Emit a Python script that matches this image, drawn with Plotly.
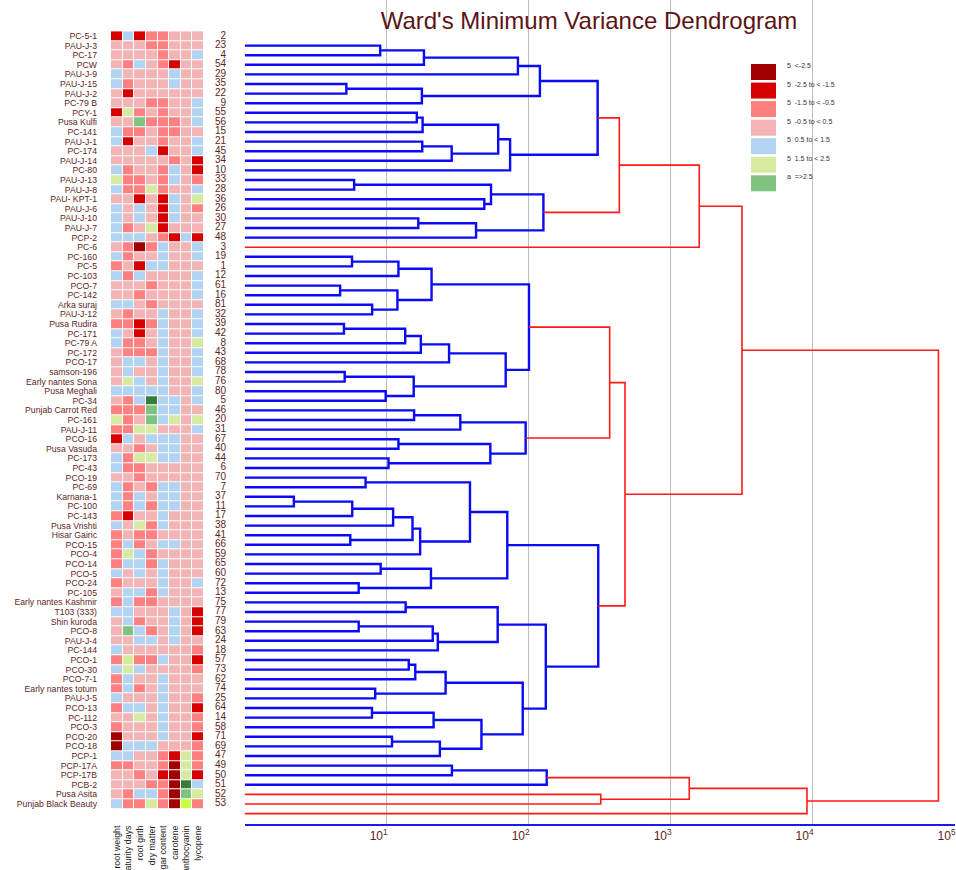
import plotly.graph_objects as go

# ---------------- data ----------------
genotypes = ["PC-5-1", "PAU-J-3", "PC-17", "PCW", "PAU-J-9", "PAU-J-15", "PAU-J-2", "PC-79 B", "PCY-1",
             "Pusa Kulfi", "PC-141", "PAU-J-1", "PC-174", "PAU-J-14", "PC-80", "PAU-J-13", "PAU-J-8",
             "PAU- KPT-1", "PAU-J-6", "PAU-J-10", "PAU-J-7", "PCP-2", "PC-6", "PC-160", "PC-5", "PC-103",
             "PCO-7", "PC-142", "Arka suraj", "PAU-J-12", "Pusa Rudira", "PC-171", "PC-79 A", "PC-172",
             "PCO-17", "samson-196", "Early nantes Sona", "Pusa Meghali", "PC-34", "Punjab Carrot Red",
             "PC-161", "PAU-J-11", "PCO-16", "Pusa Vasuda", "PC-173", "PC-43", "PCO-19", "PC-69",
             "Karnana-1", "PC-100", "PC-143", "Pusa Vrishti", "Hisar Gairic", "PCO-15", "PCO-4", "PCO-14",
             "PCO-5", "PCO-24", "PC-105", "Early nantes Kashmir", "T103 (333)", "Shin kuroda", "PCO-8",
             "PAU-J-4", "PC-144", "PCO-1", "PCO-30", "PCO-7-1", "Early nantes totum", "PAU-J-5", "PCO-13",
             "PC-112", "PCO-3", "PCO-20", "PCO-18", "PCP-1", "PCP-17A", "PCP-17B", "PCB-2", "Pusa Asita",
             "Punjab Black Beauty"]

serial_numbers = [2, 23, 4, 54, 29, 35, 22, 9, 55, 56, 15, 21, 45, 34, 10, 33, 28, 36, 26, 30,
                  27, 48, 3, 19, 1, 12, 61, 16, 81, 32, 39, 42, 8, 43, 68, 78, 76, 80, 5, 46,
                  20, 31, 67, 40, 44, 6, 70, 7, 37, 11, 17, 38, 41, 66, 59, 65, 60, 72, 13, 75,
                  77, 79, 63, 24, 18, 57, 73, 62, 74, 25, 64, 14, 58, 71, 69, 47, 49, 50, 51, 52, 53]

traits = ["root weight", "maturity days", "root girth", "dry matter", "sugar content",
          "carotene", "anthocyanin", "lycopene"]

# class of each cell, one string per genotype, one code per trait
row_classes = [
    "R B R S S P P P", "P P P S S P P P", "P P P P S P P B", "P S B P S R P P", "B P P P P B P P",
    "B S P P P B P P", "P R P P P P P P", "P P P S S P P B", "R L S P S P P B", "P P G S S S P B",
    "B S S P S S P P", "B R P P S P P B", "P P P B R P P B", "P P P P P S P R", "B S P P S B P R",
    "L S S P S B P S", "B S S L S P P B", "P P R P R B P L", "B P B P R B P S", "B P B P R B P P",
    "B S P L R P P P", "B B B P S R B R", "P S D S B P P B", "B S P P B P P B", "S P R B B P P P",
    "B S B P P P P B", "P P P S P P P B", "P P S P P P P B", "B B P S P P P P", "P S P P B P P B",
    "S S R S B P P B", "B P R P B P P B", "B S S P B P P L", "P S S S B P P B", "P B B P B P P B",
    "P B P P B P P B", "P L B P B P P L", "B B B B B P P B", "P S B DG B B P B", "S S S G B B P P",
    "L S P G B L P L", "S S L L P P P B", "R B P B B B P P", "P P S P B B P P", "B S L L B B P P",
    "B S S P P P P P", "P P S P P P P P", "B S P S B B P P", "B S B P B B P P", "B S B S B B P P",
    "S R P P B P P P", "B P L S B P P P", "S P S S P P P P", "S B S P B B P P", "S L B S P P P P",
    "S B B S B P P P", "B P B P B P P P", "S P P P B P P B", "P B B S B P P P", "S B S S P P P P",
    "B B P P P B P R", "P B S P P B P R", "P G B S P B P R", "P P B B P B P P", "B P P P P P P S",
    "S L S S B P P R", "B L B P P P P S", "S B P P B P P P", "S B S P B P P P", "B P P P B P P S",
    "S B B P B P P R", "P P L P B P P S", "S P P P B P P S", "D P P P B P P R", "D B B B P P P S",
    "B B P P S R L S", "S S P P S D L S", "P P S P R D L R", "P P P S S D DG B", "P S B B S D G L",
    "B S S L S D Y S"]

class_codes = ["D", "R", "S", "P", "B", "L", "G", "DG", "Y"]
class_colors = ["#A00000", "#D60000", "#FF8080", "#F2B4B4", "#B3D3F2", "#D6EAA2", "#80C282",
                "#3A7D3A", "#C8FF40"]
legend_labels = ["5\u00a0\u00a0<-2.5", "5\u00a0\u00a0-2.5 to < -1.5", "5\u00a0\u00a0-1.5 to < -0.5",
                 "5\u00a0\u00a0-0.5 to < 0.5", "5\u00a0\u00a00.5 to < 1.5", "5\u00a0\u00a01.5 to < 2.5",
                 "a\u00a0\u00a0=>2.5"]

# Ward dendrogram (leaves 0..80 in plotted order; merge j creates node 81+j)
merge_left = [0, 81, 82, 4, 84, 83, 7, 87, 10, 89, 88, 91, 86, 14, 16, 94, 18, 97, 96, 93,
              100, 22, 102, 25, 27, 104, 103, 29, 108, 109, 110, 34, 36, 112, 111, 107, 38, 117, 41, 43,
              119, 118, 116, 45, 47, 125, 126, 51, 127, 129, 124, 54, 56, 132, 131, 58, 60, 137, 138, 136,
              64, 141, 67, 142, 69, 145, 72, 147, 146, 144, 140, 135, 123, 101, 75, 155, 78, 156, 158, 154]
merge_right = [1, 2, 3, 5, 6, 85, 8, 9, 11, 12, 90, 13, 92, 15, 17, 95, 19, 20, 98, 99,
               21, 23, 24, 26, 28, 105, 106, 30, 31, 32, 33, 35, 37, 113, 114, 115, 39, 40, 42, 44,
               120, 121, 122, 46, 48, 49, 50, 52, 128, 53, 130, 55, 57, 133, 134, 59, 61, 62, 63, 139,
               65, 66, 68, 143, 70, 71, 73, 74, 148, 149, 150, 151, 152, 153, 76, 77, 79, 157, 80, 159]
merge_height = [9.0, 18.3, 84, 5.2, 17.7, 120, 16.3, 17.9, 17.8, 28.7, 61, 74, 306, 5.9, 48.7, 54.3,
                16.7, 42.6, 127, 435, 1590, 5.7, 12.1, 4.7, 7.9, 11.9, 20.7, 5.0, 13.5, 17.4, 27.5,
                5.06, 9.84, 15.5, 68.9, 100.5, 15.6, 33, 12.1, 10.3, 53.7, 95.2, 372, 7.1, 2.22, 5.72,
                11.1, 5.54, 15.2, 17.2, 38.6, 9.07, 6.35, 20.5, 70.7, 13.6, 6.35, 21.1, 22.9, 60.5,
                14.3, 15.9, 8.3, 26, 7.88, 21.4, 10.9, 23.7, 46.5, 90.8, 132, 309, 477, 3180, 28.8,
                134, 322, 1352, 9120, 76900]
leaf_height = 1
cut_height = 315
axis_ticks = [10, 100, 1000, 10000, 100000]
axis_tick_text = ["10<sup>1</sup>", "10<sup>2</sup>", "10<sup>3</sup>", "10<sup>4</sup>", "10<sup>5</sup>"]

# ---------------- build ----------------
W, H = 956, 870
n_rows = len(genotypes)
code_index = {c: i for i, c in enumerate(class_codes)}
z = [[code_index[c] for c in r.split()] for r in row_classes]

nc = len(class_colors)
colorscale = []
for i, c in enumerate(class_colors):
    colorscale.append([i / nc, c])
    colorscale.append([(i + 1) / nc, c])

label_col = "#5E1E1E"
font_main = "Liberation Sans, Arial, sans-serif"

hm_x0, hm_x1 = 111.0, 204.0
col_w = (hm_x1 - hm_x0) / len(traits)
num_right = 226.0
x_hi = (len(traits) - 0.5) + (num_right - hm_x1) / col_w   # axis extends to the number column

fig = go.Figure()
fig.add_trace(go.Heatmap(z=z, x=list(range(len(traits))), y=list(range(n_rows)),
                         colorscale=colorscale, zmin=-0.5, zmax=nc - 0.5, showscale=False,
                         xgap=1, ygap=1, hoverinfo="skip", xaxis="x", yaxis="y"))

# serial numbers, right-aligned just right of the heatmap
fig.add_trace(go.Scatter(x=[x_hi] * n_rows, y=list(range(n_rows)), mode="text",
                         text=[str(v) for v in serial_numbers], textposition="middle left",
                         textfont=dict(family=font_main, size=10, color=label_col),
                         cliponaxis=False, hoverinfo="skip", showlegend=False,
                         xaxis="x", yaxis="y"))

# dendrogram geometry
node_y = {i: float(i) for i in range(n_rows)}
node_h = {i: float(leaf_height) for i in range(n_rows)}
seg = {"blue": ([], []), "red": ([], [])}
for j, (a, b, h) in enumerate(zip(merge_left, merge_right, merge_height)):
    nid = n_rows + j
    node_y[nid] = (node_y[a] + node_y[b]) / 2
    node_h[nid] = h
    key = "red" if h > cut_height else "blue"
    xs, ys = seg[key]
    xs += [node_h[a], h, h, node_h[b], None]
    ys += [node_y[a], node_y[a], node_y[b], node_y[b], None]

fig.add_trace(go.Scatter(x=seg["blue"][0], y=seg["blue"][1], mode="lines",
                         line=dict(color="#0A0AF5", width=2.4), hoverinfo="skip",
                         xaxis="x2", yaxis="y2", showlegend=False))
fig.add_trace(go.Scatter(x=seg["red"][0], y=seg["red"][1], mode="lines",
                         line=dict(color="#FF1A1A", width=1.6), hoverinfo="skip",
                         xaxis="x2", yaxis="y2", showlegend=False))

row_px0, row_step = 36.0, 9.6
hm_top = row_px0 - row_step / 2
hm_bot = row_px0 + (n_rows - 1) * row_step + row_step / 2
leaf_px0 = 45.6
axis_px = 824.0
dx0, dx1 = 244.7, 954.7

fig.update_layout(
    width=W, height=H, margin=dict(l=0, r=0, t=0, b=0, autoexpand=False),
    paper_bgcolor="white", plot_bgcolor="white", showlegend=False,
    title=dict(text="Ward's Minimum Variance Dendrogram", x=589 / W, y=1 - 21 / H,
               xanchor="center", yanchor="middle", automargin=False,
               font=dict(family=font_main, size=24, color="#5A1414")),
    xaxis=dict(domain=[hm_x0 / W, num_right / W], range=[-0.5, x_hi], anchor="y",
               tickvals=list(range(len(traits))), ticktext=traits, tickangle=-90, ticks="",
               ticklabelstandoff=14, automargin=False,
               showgrid=False, zeroline=False, showline=False,
               tickfont=dict(family=font_main, size=8.8, color="#1A1A1A")),
    yaxis=dict(domain=[(H - hm_bot) / H, (H - hm_top) / H], range=[n_rows - 0.5, -0.5], anchor="x",
               tickvals=list(range(n_rows)), ticktext=genotypes, ticks="", ticklabelstandoff=13,
               automargin=False, showgrid=False, zeroline=False, showline=False,
               tickfont=dict(family=font_main, size=8.7, color=label_col)),
    xaxis2=dict(type="log", domain=[dx0 / W, dx1 / W], range=[0, 5.0005], anchor="y2",
                tickvals=axis_ticks, ticktext=axis_tick_text, ticks="", ticklabelshift=-8,
                ticklabelstandoff=0, automargin=False,
                showgrid=True, gridcolor="#BDBDBD", gridwidth=1, zeroline=False,
                showline=True, linecolor="#1A1AF0", linewidth=2,
                tickfont=dict(family=font_main, size=12, color=label_col)),
    yaxis2=dict(domain=[(H - axis_px) / H, 1],
                range=[(axis_px - leaf_px0) / row_step, -leaf_px0 / row_step], anchor="x2",
                automargin=False,
                showticklabels=False, showgrid=False, zeroline=False, showline=False, ticks=""),
)

# colour key
key_x0, key_x1, key_top, key_step, key_h = 751, 776, 64, 18.55, 16
for i, lab in enumerate(legend_labels):
    t = key_top + i * key_step
    fig.add_shape(type="rect", xref="paper", yref="paper", x0=key_x0 / W, x1=key_x1 / W,
                  y0=1 - (t + key_h) / H, y1=1 - t / H, fillcolor=class_colors[i], line=dict(width=0),
                  layer="above")
    fig.add_annotation(x=786 / W, xref="paper", y=1 - (t + 1.5) / H, yref="paper", text=lab,
                       showarrow=False, xanchor="left", yanchor="middle", borderpad=0,
                       font=dict(family=font_main, size=7, color="#333333"))

fig.write_html("out.html", config={"displayModeBar": False},
               post_script="document.body.style.margin='0';document.body.style.overflow='hidden';")
